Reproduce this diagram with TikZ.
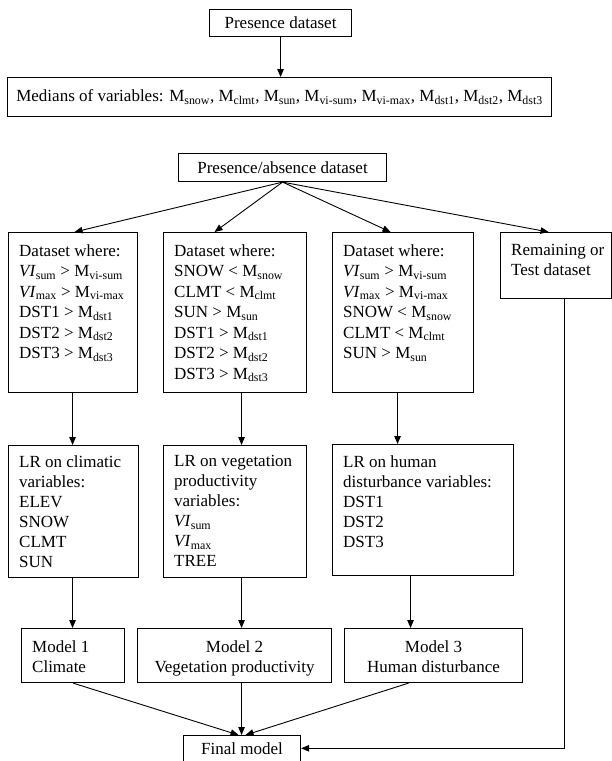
\documentclass[tikz,border=0pt]{standalone}
\usepackage{fontspec}
\setmainfont{Liberation Serif}
\usetikzlibrary{arrows.meta,calc}
\newcommand\sbs[1]{\textsubscript{#1}}
\begin{document}
\begin{tikzpicture}[x=1pt,y=-1pt,
  box/.style={draw, line width=1.1pt, inner sep=0pt, anchor=north west,
    font=\fontsize{17}{20}\selectfont, align=center},
  txt/.style={font=\fontsize{17}{20.5}\selectfont, align=left, inner sep=0pt, anchor=north west},
  txtb/.style={font=\fontsize{17}{20}\selectfont, align=left, inner sep=0pt, anchor=north west},
  ctxt/.style={font=\fontsize{17}{20}\selectfont, align=center, inner sep=0pt, anchor=north},
  arr/.style={-{Triangle[length=8pt,width=6.5pt]}, line width=0.9pt}]
\useasboundingbox (0,0) rectangle (611,761);

% top part
\node[box, minimum width=142pt, minimum height=27pt] (pres) at (209,9) {Presence dataset};
\node[box, minimum width=544pt, minimum height=39pt] (med) at (7,77)
  {Medians of variables: M\sbs{snow}, M\sbs{clmt}, M\sbs{sun}, M\sbs{vi-sum}, M\sbs{vi-max}, M\sbs{dst1}, M\sbs{dst2}, M\sbs{dst3}};
\node[box, minimum width=208pt, minimum height=28pt] (pa) at (178,153) {Presence/absence dataset};

% row 1
\node[box, minimum width=129pt, minimum height=160pt] (dA) at (8,232) {};
\node[box, minimum width=143pt, minimum height=160pt] (dB) at (163,232) {};
\node[box, minimum width=141pt, minimum height=160pt] (dC) at (332,232) {};
\node[box, minimum width=110.5pt, minimum height=66pt] (dD) at (500,232) {};
\node[txt] (tA) at ([xshift=11pt,yshift=-12.4pt]dA.north west)
  {Dataset where:\\ \textit{VI}\sbs{sum} > M\sbs{vi-sum}\\ \textit{VI}\sbs{max} > M\sbs{vi-max}\\
   DST1 > M\sbs{dst1}\\ DST2 > M\sbs{dst2}\\ DST3 > M\sbs{dst3}};
\node[txt] (tB) at ([xshift=11pt,yshift=-12.4pt]dB.north west)
  {Dataset where:\\ SNOW < M\sbs{snow}\\ CLMT < M\sbs{clmt}\\ SUN > M\sbs{sun}\\
   DST1 > M\sbs{dst1}\\ DST2 > M\sbs{dst2}\\ DST3 > M\sbs{dst3}};
\node[txt] (tC) at ([xshift=11pt,yshift=-12.4pt]dC.north west)
  {Dataset where:\\ \textit{VI}\sbs{sum} > M\sbs{vi-sum}\\ \textit{VI}\sbs{max} > M\sbs{vi-max}\\
   SNOW < M\sbs{snow}\\ CLMT < M\sbs{clmt}\\ SUN > M\sbs{sun}};
\node[txtb] (tD) at ([xshift=11pt,yshift=-12.4pt]dD.north west)
  {Remaining or\\ Test dataset};

% row 2
\node[box, minimum width=130pt, minimum height=132pt] (lA) at (8,445) {};
\node[box, minimum width=143pt, minimum height=132pt] (lB) at (163,445) {};
\node[box, minimum width=181pt, minimum height=131pt] (lC) at (332,444) {};
\node[txtb] (uA) at ([xshift=11pt,yshift=-10.4pt]lA.north west)
  {LR on climatic\\ variables:\\ ELEV\\ SNOW\\ CLMT\\ SUN};
\node[txtb] (uB) at ([xshift=11pt,yshift=-10.4pt]lB.north west)
  {LR on vegetation\\ productivity\\ variables:\\ \textit{VI}\sbs{sum}\\ \textit{VI}\sbs{max}\\ TREE};
\node[txtb] (uC) at ([xshift=11pt,yshift=-11.4pt]lC.north west)
  {LR on human\\ disturbance variables:\\ DST1\\ DST2\\ DST3};

% row 3
\node[box, minimum width=103pt, minimum height=54pt] (m1) at (21,628) {};
\node[txtb] (m1t) at ([xshift=11pt,yshift=-12.4pt]m1.north west) {Model 1\\Climate};
\node[box, minimum width=194pt, minimum height=54pt] (m2) at (137,628) {};
\node[ctxt] (m2t) at ([yshift=-12.4pt]m2.north) {Model 2\\Vegetation productivity};
\node[box, minimum width=178pt, minimum height=54pt] (m3) at (344,628) {};
\node[ctxt] (m3t) at ([yshift=-12.4pt]m3.north) {Model 3\\Human disturbance};
\node[box, minimum width=117pt, minimum height=25.5pt] (fin) at (183,735) {Final model};

% connectors
\draw[arr] (pres.south) -- (pres.south |- med.north);
\draw[arr] (pa.south) -- ([xshift=1.5pt]dA.north);
\draw[arr] (pa.south) -- ([xshift=-20.5pt]dB.north);
\draw[arr] (pa.south) -- ([xshift=-12.5pt]dC.north);
\draw[arr] (pa.south) -- ([xshift=-7.25pt]dD.north);

\draw[arr] ([xshift=-0.5pt]dA.south) -- ([xshift=-0.5pt]dA.south |- lA.north);
\draw[arr] ([xshift=6.5pt]dB.south) -- ([xshift=6.5pt]dB.south |- lB.north);
\draw[arr] ([xshift=-5.5pt]dC.south) -- ([xshift=-5.5pt]dC.south |- lC.north);

\draw[arr] ([xshift=-1pt]lA.south) -- ([xshift=-1pt]lA.south |- m1.north);
\draw[arr] ([xshift=6.5pt]lB.south) -- ([xshift=6.5pt]lB.south |- m2.north);
\draw[arr] ([xshift=-12.5pt]lC.south) -- ([xshift=-12.5pt]lC.south |- m3.north);

\draw[arr] (m1.south) -- ([xshift=-3.5pt]fin.north);
\draw[arr] ([xshift=7pt]m2.south) -- ([xshift=7pt]m2.south |- fin.north);
\draw[arr] ([xshift=-25pt]m3.south) -- ([xshift=3.5pt]fin.north);
\draw[arr] ([xshift=8.5pt]dD.south) |- (fin.east);
\end{tikzpicture}
\end{document}
